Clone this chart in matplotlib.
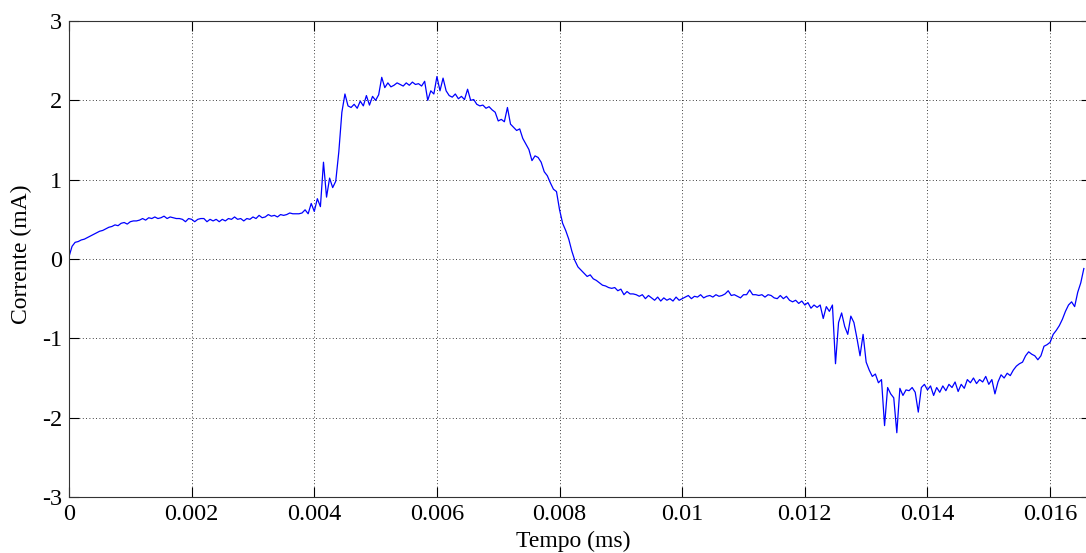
import numpy as np
import matplotlib.pyplot as plt

plt.rcParams['font.family'] = ['Liberation Serif', 'DejaVu Serif']
plt.rcParams['axes.unicode_minus'] = False

# corrente medida, amostrada a cada 50 us
dt = 0.00005
corrente = [
    0.03, 0.16, 0.21, 0.22, 0.24, 0.25, 0.27, 0.29, 0.31, 0.33,
    0.35, 0.36, 0.38, 0.40, 0.41, 0.43, 0.42, 0.45, 0.46, 0.44,
    0.47, 0.48, 0.48, 0.49, 0.51, 0.49, 0.52, 0.51, 0.53, 0.51,
    0.52, 0.54, 0.51, 0.53, 0.52, 0.51, 0.51, 0.50, 0.47, 0.51,
    0.50, 0.47, 0.50, 0.51, 0.51, 0.47, 0.50, 0.48, 0.50, 0.47,
    0.50, 0.48, 0.51, 0.50, 0.53, 0.50, 0.51, 0.48, 0.51, 0.50,
    0.53, 0.51, 0.55, 0.52, 0.53, 0.56, 0.54, 0.55, 0.53, 0.56,
    0.55, 0.56, 0.58, 0.57, 0.57, 0.57, 0.58, 0.62, 0.57, 0.70,
    0.60, 0.76, 0.66, 1.22, 0.78, 1.02, 0.90, 0.98, 1.35, 1.85,
    2.08, 1.93, 1.91, 1.95, 1.90, 1.99, 1.93, 2.06, 1.94, 2.05,
    2.00, 2.07, 2.29, 2.16, 2.22, 2.17, 2.19, 2.22, 2.20, 2.18,
    2.22, 2.19, 2.23, 2.20, 2.21, 2.18, 2.24, 2.00, 2.12, 2.08,
    2.30, 2.12, 2.28, 2.12, 2.06, 2.04, 2.08, 2.02, 2.05, 2.01,
    2.14, 2.00, 2.01, 1.95, 1.93, 1.94, 1.90, 1.92, 1.88, 1.85,
    1.74, 1.76, 1.73, 1.91, 1.70, 1.66, 1.62, 1.64, 1.52, 1.45,
    1.38, 1.24, 1.30, 1.28, 1.22, 1.10, 1.05, 0.96, 0.88, 0.85,
    0.62, 0.45, 0.36, 0.25, 0.10, -0.02, -0.10, -0.14, -0.18, -0.22,
    -0.20, -0.25, -0.27, -0.30, -0.33, -0.34, -0.36, -0.37, -0.36, -0.40,
    -0.38, -0.45, -0.41, -0.44, -0.44, -0.45, -0.47, -0.45, -0.50, -0.46,
    -0.49, -0.52, -0.48, -0.53, -0.49, -0.52, -0.50, -0.53, -0.48, -0.52,
    -0.50, -0.48, -0.46, -0.50, -0.47, -0.48, -0.45, -0.49, -0.47, -0.46,
    -0.48, -0.45, -0.47, -0.46, -0.44, -0.40, -0.46, -0.45, -0.47, -0.49,
    -0.45, -0.45, -0.39, -0.45, -0.45, -0.46, -0.45, -0.48, -0.45, -0.46,
    -0.49, -0.50, -0.46, -0.50, -0.47, -0.52, -0.54, -0.52, -0.56, -0.53,
    -0.58, -0.55, -0.62, -0.58, -0.61, -0.58, -0.75, -0.60, -0.66, -0.58,
    -1.32, -0.80, -0.68, -0.85, -0.95, -0.72, -0.80, -1.00, -1.22, -0.95,
    -1.30, -1.40, -1.48, -1.45, -1.56, -1.52, -2.10, -1.62, -1.70, -1.75,
    -2.19, -1.63, -1.72, -1.65, -1.66, -1.62, -1.68, -1.93, -1.62, -1.58,
    -1.65, -1.60, -1.72, -1.62, -1.68, -1.60, -1.66, -1.58, -1.62, -1.55,
    -1.67, -1.58, -1.63, -1.52, -1.56, -1.50, -1.57, -1.52, -1.55, -1.48,
    -1.58, -1.52, -1.70, -1.55, -1.46, -1.50, -1.44, -1.47, -1.40, -1.35,
    -1.32, -1.30, -1.22, -1.17, -1.20, -1.22, -1.27, -1.22, -1.10, -1.08,
    -1.05, -0.95, -0.90, -0.84, -0.76, -0.66, -0.58, -0.54, -0.60, -0.42,
    -0.30, -0.12,
]
tempo = np.arange(len(corrente)) * dt

xticks = [0, 0.002, 0.004, 0.006, 0.008, 0.01, 0.012, 0.014, 0.016]
xticklabels = ['0', '0.002', '0.004', '0.006', '0.008', '0.01', '0.012', '0.014', '0.016']
yticks = [-3, -2, -1, 0, 1, 2, 3]

fig = plt.figure(figsize=(10.86, 5.53), dpi=100)
ax = fig.add_axes([69 / 1086, 56 / 553, 1022 / 1086, 476 / 553])

ax.plot(tempo, corrente, color='#0000ff', linewidth=0.9)

ax.set_xlim(0, 1 / 60)
ax.set_ylim(-3, 3)
ax.set_xticks(xticks)
ax.set_xticklabels(xticklabels)
ax.set_yticks(yticks)
ax.tick_params(direction='in', length=7, width=0.8, top=True, right=True,
               labelsize=17.5, colors='k')
ax.tick_params(axis='x', pad=5)
ax.tick_params(axis='y', pad=5)
ax.grid(True, linestyle=(0, (1, 3)), color='k', linewidth=0.6)
for s in ax.spines.values():
    s.set_linewidth(0.8)
    s.set_color('#333333')

ax.set_xlabel('Tempo (ms)', fontsize=17)
ax.set_ylabel('Corrente (mA)', fontsize=17)
ax.xaxis.set_label_coords(0.493, -0.072)
ax.yaxis.set_label_coords(-0.036, 0.51)

fig.savefig('out.png', dpi=100)
